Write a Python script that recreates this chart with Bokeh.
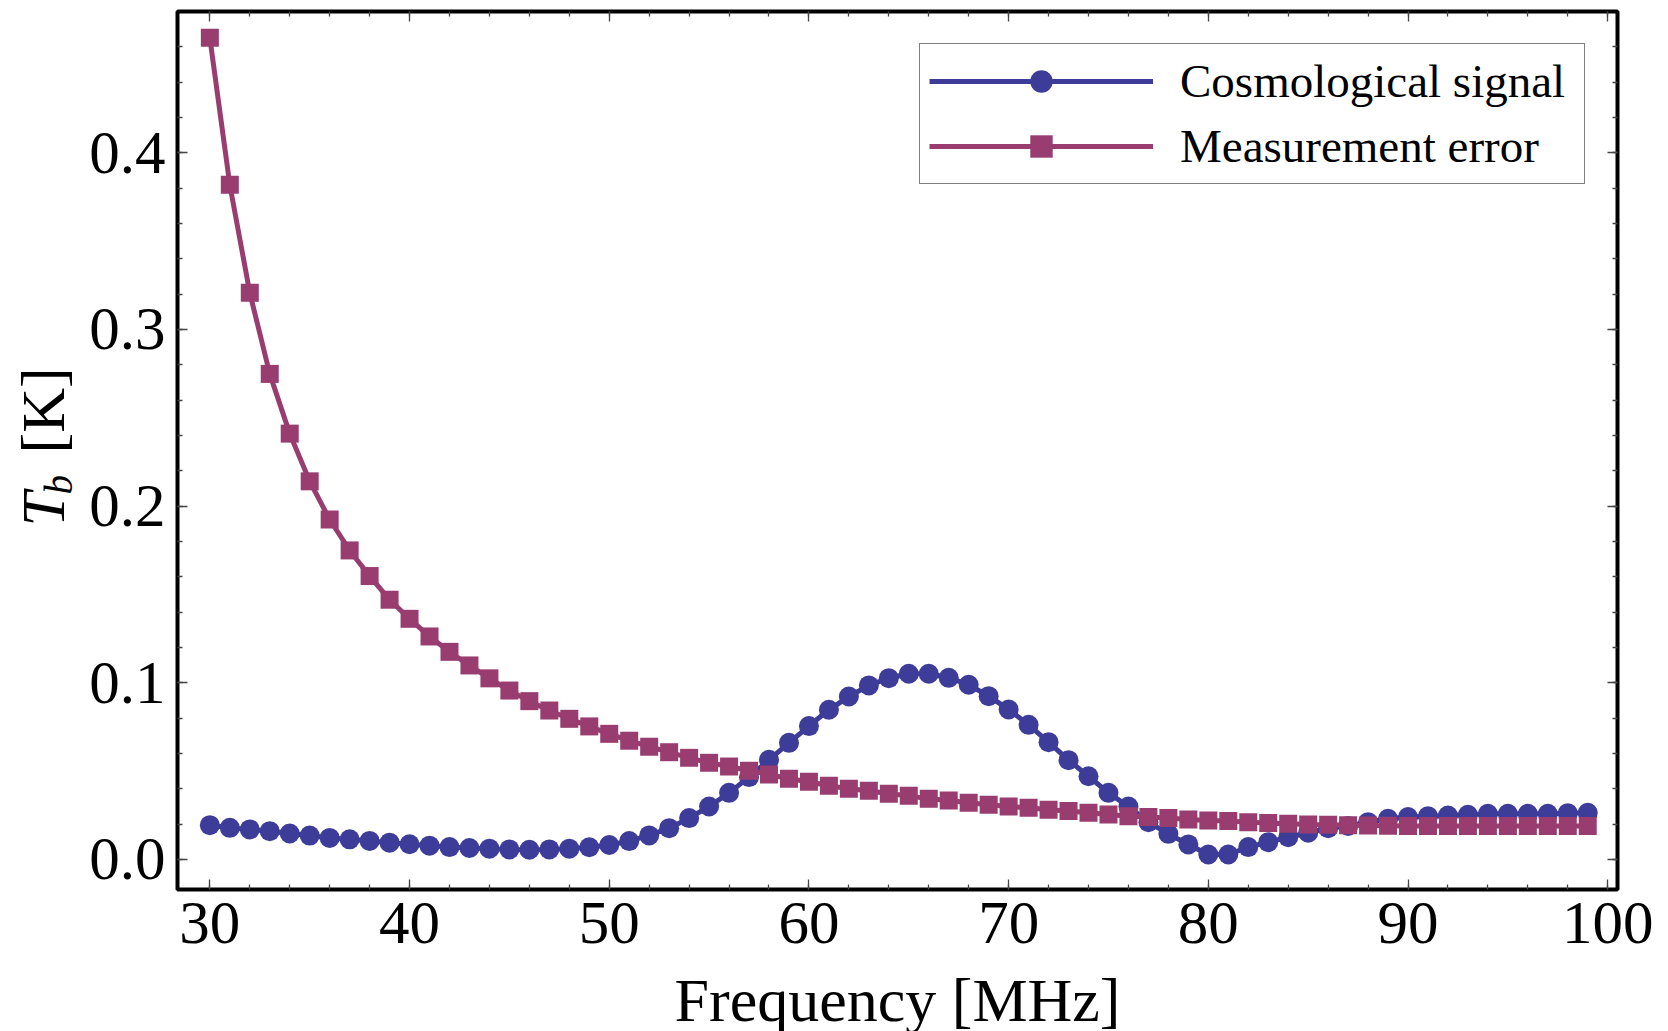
import math
from bokeh.plotting import figure
from bokeh.layouts import row
from bokeh.models import (Range1d, LinearAxis, SingleIntervalTicker, Legend, LegendItem,
                          CustomJSTickFormatter, PrintfTickFormatter)
from bokeh.core.properties import value
from bokeh.embed import file_html
from bokeh.resources import INLINE

# ---------------- data ----------------
freq = list(range(30, 100))

cosmological_signal = [
    0.0194, 0.0179, 0.0170, 0.0160, 0.0147, 0.0135, 0.0122, 0.0114, 0.0105, 0.0095,
    0.0086, 0.0078, 0.0070, 0.0065, 0.0061, 0.0057, 0.0055, 0.0057, 0.0061, 0.0069,
    0.0082, 0.0104, 0.0136, 0.0177, 0.0234, 0.0300, 0.0377, 0.0466, 0.0564, 0.0660,
    0.0755, 0.0847, 0.0922, 0.0985, 0.1026, 0.1051, 0.1051, 0.1028, 0.0989, 0.0924,
    0.0849, 0.0762, 0.0664, 0.0562, 0.0471, 0.0377, 0.0300, 0.0211, 0.0145, 0.0085,
    0.0028, 0.0028, 0.0070, 0.0098, 0.0126, 0.0151, 0.0177, 0.0190, 0.0211, 0.0230,
    0.0240, 0.0245, 0.0249, 0.0253, 0.0258, 0.0258, 0.0258, 0.0258, 0.0262, 0.0264,
]

measurement_error = [
    0.4650, 0.3818, 0.3207, 0.2748, 0.2410, 0.2140, 0.1924, 0.1749, 0.1604, 0.1470,
    0.1362, 0.1262, 0.1175, 0.1098, 0.1025, 0.0956, 0.0896, 0.0843, 0.0796, 0.0753,
    0.0711, 0.0672, 0.0638, 0.0607, 0.0575, 0.0547, 0.0526, 0.0502, 0.0481, 0.0457,
    0.0440, 0.0417, 0.0400, 0.0389, 0.0372, 0.0360, 0.0343, 0.0334, 0.0321, 0.0310,
    0.0300, 0.0293, 0.0281, 0.0274, 0.0264, 0.0255, 0.0245, 0.0240, 0.0234, 0.0226,
    0.0221, 0.0217, 0.0211, 0.0206, 0.0202, 0.0198, 0.0197, 0.0194, 0.0192, 0.0191,
    0.0189, 0.0189, 0.0189, 0.0189, 0.0189, 0.0189, 0.0189, 0.0189, 0.0189, 0.0189,
]

series_names = ["Cosmological signal", "Measurement error"]
x_label = "Frequency [MHz]"
y_label_parts = ["T", "b", "[K]"]   # T (italic), subscript b (italic), [K]

# ---------------- style ----------------
BLUE = "#3d3d99"
PURPLE = "#993d71"
SERIF = "Liberation Serif"
TICK_FS = "61px"
LABEL_W = 84        # width of the strip that carries the rotated y-axis title
FRAME_W, FRAME_H = 1440, 878
TOP = 11

p = figure(frame_width=FRAME_W, frame_height=FRAME_H,
           x_range=Range1d(28.38, 100.49), y_range=Range1d(-0.017, 0.4799),
           output_backend="svg", toolbar_location=None,
           min_border_left=177 - LABEL_W, min_border_right=51, min_border_top=TOP,
           min_border_bottom=142,
           x_axis_location=None, y_axis_location=None)
p.grid.visible = False
p.outline_line_color = "black"
p.outline_line_width = 4
p.background_fill_color = "white"
p.border_fill_color = "white"


def style_axis(ax, labels=True):
    ax.axis_line_color = None
    ax.major_tick_in = 10
    ax.major_tick_out = 0
    ax.minor_tick_in = 5
    ax.minor_tick_out = 0
    ax.major_tick_line_color = "#444444"
    ax.minor_tick_line_color = "#444444"
    ax.major_tick_line_width = 1.3
    ax.minor_tick_line_width = 1.3
    ax.major_label_text_font = SERIF
    ax.major_label_text_font_size = TICK_FS
    ax.major_label_text_color = "black"
    if not labels:
        ax.formatter = CustomJSTickFormatter(code="return ''")


xt = SingleIntervalTicker(interval=10, num_minor_ticks=5)
yt = SingleIntervalTicker(interval=0.1, num_minor_ticks=5)

xb = LinearAxis(ticker=xt, axis_label=x_label)
style_axis(xb)
xb.major_label_standoff = 13
xb.axis_label_text_font = SERIF
xb.axis_label_text_font_size = "62px"
xb.axis_label_text_font_style = "normal"
xb.axis_label_text_color = "black"
xb.axis_label_standoff = 20
p.add_layout(xb, "below")

xtop = LinearAxis(ticker=xt)
style_axis(xtop, labels=False)
p.add_layout(xtop, "above")

yl = LinearAxis(ticker=yt, formatter=PrintfTickFormatter(format="%.1f"))
style_axis(yl)
yl.major_label_standoff = 12
p.add_layout(yl, "left")

yr = LinearAxis(ticker=yt)
style_axis(yr, labels=False)
p.add_layout(yr, "right")

# ---------------- series ----------------
l1 = p.line(freq, cosmological_signal, line_color=BLUE, line_width=5)
s1 = p.scatter(freq, cosmological_signal, marker="circle", size=20,
               fill_color=BLUE, line_color=BLUE, line_width=0)
l2 = p.line(freq, measurement_error, line_color=PURPLE, line_width=5)
s2 = p.scatter(freq, measurement_error, marker="square", size=18,
               fill_color=PURPLE, line_color=PURPLE, line_width=0)

legend = Legend(items=[LegendItem(label=series_names[0], renderers=[l1, s1]),
                       LegendItem(label=series_names[1], renderers=[l2, s2])],
                location="top_right", margin=32, padding=9, spacing=9,
                glyph_width=224, glyph_height=56, label_standoff=27, label_width=395,
                label_text_font=SERIF, label_text_font_size="47px",
                label_text_color="black",
                border_line_color="black", border_line_width=1.5,
                background_fill_color="white", background_fill_alpha=1)
p.add_layout(legend)

# ---------------- y axis title strip ----------------
# the row aligns this strip's frame with the main frame, so its y units are
# pixels measured upward from the main frame's bottom edge
t = figure(frame_width=LABEL_W, frame_height=FRAME_H,
           x_range=Range1d(0, LABEL_W), y_range=Range1d(0, FRAME_H),
           output_backend="svg", toolbar_location=None,
           min_border_left=0, min_border_right=0, min_border_top=TOP, min_border_bottom=0,
           x_axis_location=None, y_axis_location=None)
t.grid.visible = False
t.outline_line_color = None
t.background_fill_color = "white"
t.border_fill_color = "white"
bottom = TOP + FRAME_H
ang = math.pi / 2
t.text(x=[42], y=[bottom - 526], text=[y_label_parts[0]], angle=ang,
       text_font=value(SERIF), text_font_style="italic", text_font_size="62px",
       text_align="left", text_baseline="alphabetic", text_color="black")
t.text(x=[58], y=[bottom - 494], text=[y_label_parts[1]], angle=ang,
       text_font=value(SERIF), text_font_style="italic", text_font_size="39px",
       text_align="left", text_baseline="alphabetic", text_color="black")
t.text(x=[42], y=[bottom - 453], text=[y_label_parts[2]], angle=ang,
       text_font=value(SERIF), text_font_style="normal", text_font_size="62px",
       text_align="left", text_baseline="alphabetic", text_color="black")

layout = row(t, p, spacing=0)
open("out.html", "w").write(file_html(layout, INLINE))
